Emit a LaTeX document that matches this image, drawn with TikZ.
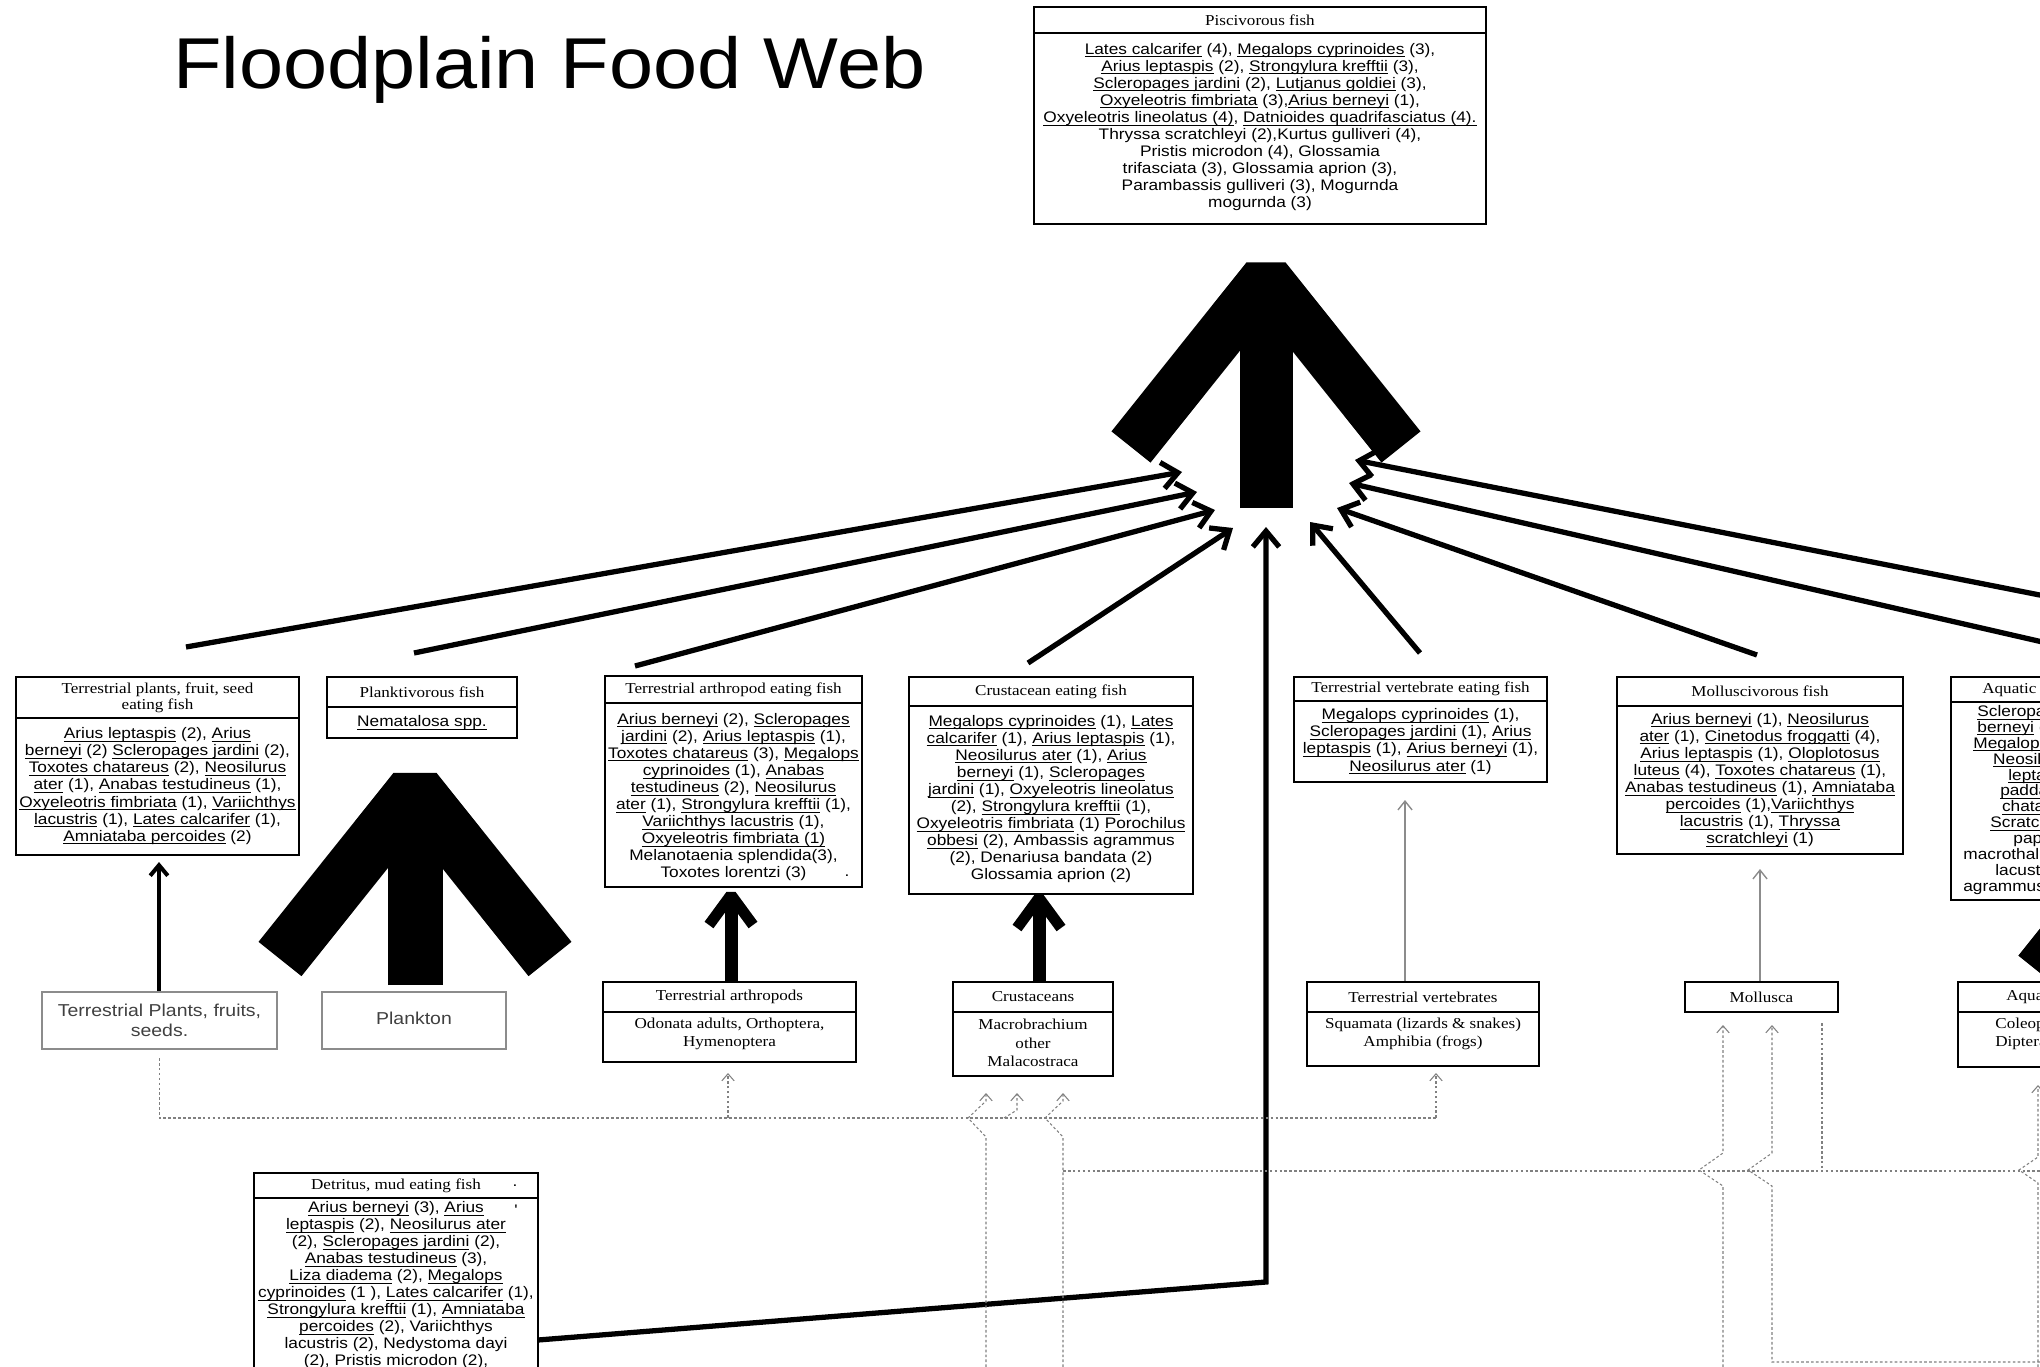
\documentclass[tikz,border=0pt]{standalone}
\usepackage{fontspec}
\usetikzlibrary{calc}
\usetikzlibrary{fit}
\usetikzlibrary{arrows.meta}

\newfontfamily\titlefont[FakeStretch=1.1]{Liberation Sans}
\newfontfamily\bodyfont[FakeStretch=1.13]{Liberation Sans}
\newfontfamily\headfont[FakeStretch=1.13]{Liberation Serif}
\newsavebox{\spcbox}
\newcommand{\spc}[1]{\sbox{\spcbox}{#1}\rlap{\rule[-1.7pt]{\wd\spcbox}{0.5pt}}\usebox{\spcbox}}

\tikzset{
  boxline/.style={draw=black, line width=1.3pt, inner sep=0pt},
  grayline/.style={draw=black!45, line width=0.9pt, inner sep=0pt},
  titletxt/.style={font=\titlefont\fontsize{41}{45}\selectfont, inner sep=0pt},
  headtxt/.style={font=\headfont\fontsize{8.6}{9.3}\selectfont, align=center, inner sep=0pt},
  bodytxt/.style={font=\bodyfont\fontsize{8.7}{9.7}\selectfont, align=center, inner sep=0pt},
  srctxt/.style={font=\headfont\fontsize{8.6}{10.5}\selectfont, align=center, inner sep=0pt},
  graytxt/.style={font=\bodyfont\fontsize{9.8}{11.2}\selectfont, align=center, text=black!75, inner sep=0pt},
  feed/.style={line width=3pt, -{Straight Barb[length=9pt,width=15pt]}},
  blackup/.style={line width=2.3pt, -{Straight Barb[length=6pt,width=10pt]}},
  grayup/.style={draw=black!45, line width=0.8pt, -{Straight Barb[length=5pt,width=8pt]}},
  dotlink/.style={draw=black!50, line width=0.6pt, dash pattern=on 1.5pt off 1.3pt},
  dotarrow/.style={dotlink, -{Straight Barb[length=4pt,width=7pt]}},
  wing/.style={line width=#1, line join=bevel, line cap=butt},
  stem/.style={line width=#1, line cap=butt}
}

\begin{document}
\begin{tikzpicture}[x=0.2mm,y=-0.2mm]
  \useasboundingbox (0,0) rectangle (2040,1367);
  \clip (0,0) rectangle (2040,1367);

  %% title
  \node[titletxt, anchor=base west] (title) at (173,88) {Floodplain Food Web};

  %% piscivorous fish at the top
  \node[boxline, fit={(1034,7) (1486,224)}] (pisc) {};
  \draw[boxline] (1034,33) -- (1486,33);
  \node[headtxt] (pisc/head) at (1260,20) {Piscivorous fish};
  \node[bodytxt] (pisc/body) at (1260,127) {%
    \spc{Lates calcarifer} (4), \spc{Megalops cyprinoides} (3),\\
    \spc{Arius leptaspis} (2), \spc{Strongylura krefftii} (3),\\
    \spc{Scleropages jardini} (2), \spc{Lutjanus goldiei} (3),\\
    \spc{Oxyeleotris fimbriata} (3),\spc{Arius berneyi} (1),\\
    \spc{Oxyeleotris lineolatus (4)}, \spc{Datnioides quadrifasciatus (4).}\\
    Thryssa scratchleyi (2),Kurtus gulliveri (4),\\
    Pristis microdon (4), Glossamia\\
    trifasciata (3), Glossamia aprion (3),\\
    Parambassis gulliveri (3), Mogurnda\\
    mogurnda (3)};

  %% big arrow into the piscivorous fish
  \draw[stem=10.6mm] (1266,508) -- (1266,285);
  \draw[wing=10mm] (1131,447) -- (1266,278) -- (1401,447);

  %% fish boxes, middle row
  \node[boxline, fit={(16,677) (299,855)}] (tpfish) {};
  \draw[boxline] (16,718) -- (299,718);
  \node[headtxt] (tpfish/head) at (157.5,697.5) {Terrestrial plants, fruit, seed\\eating fish};
  \node[bodytxt] (tpfish/body) at (157.5,786) {%
    \spc{Arius leptaspis} (2), \spc{Arius}\\
    \spc{berneyi} (2) \spc{Scleropages jardini} (2),\\
    \spc{Toxotes chatareus} (2), \spc{Neosilurus}\\
    \spc{ater} (1), \spc{Anabas testudineus} (1),\\
    \spc{Oxyeleotris fimbriata} (1), \spc{Variichthys}\\
    \spc{lacustris} (1), \spc{Lates calcarifer} (1),\\
    \spc{Amniataba percoides} (2)};

  \node[boxline, fit={(327,677) (517,738)}] (plfish) {};
  \draw[boxline] (327,707) -- (517,707);
  \node[headtxt] (plfish/head) at (422,692) {Planktivorous fish};
  \node[bodytxt] (plfish/body) at (422,722.5) {\spc{Nematalosa spp.}};

  \node[boxline, fit={(605,676) (862,887)}] (arfish) {};
  \draw[boxline] (605,703) -- (862,703);
  \node[headtxt] (arfish/head) at (733.5,689.5) {Terrestrial arthropod eating fish};
  \node[bodytxt] (arfish/body) at (733.5,797) {%
    \spc{Arius berneyi} (2), \spc{Scleropages}\\
    \spc{jardini} (2), \spc{Arius leptaspis} (1),\\
    \spc{Toxotes chatareus} (3), \spc{Megalops}\\
    \spc{cyprinoides} (1), \spc{Anabas}\\
    \spc{testudineus} (2), \spc{Neosilurus}\\
    \spc{ater} (1), \spc{Strongylura krefftii} (1),\\
    \spc{Variichthys lacustris} (1),\\
    \spc{Oxyeleotris fimbriata (1)}\\
    Melanotaenia splendida(3),\\
    Toxotes lorentzi (3)};
  \node[bodytxt] (arfish/dot) at (847,876) {.};

  \node[boxline, fit={(909,677) (1193,894)}] (crfish) {};
  \draw[boxline] (909,706) -- (1193,706);
  \node[headtxt] (crfish/head) at (1051,691.5) {Crustacean eating fish};
  \node[bodytxt] (crfish/body) at (1051,799) {%
    \spc{Megalops cyprinoides} (1), \spc{Lates}\\
    \spc{calcarifer} (1), \spc{Arius leptaspis} (1),\\
    \spc{Neosilurus ater} (1), \spc{Arius}\\
    \spc{berneyi} (1), \spc{Scleropages}\\
    \spc{jardini} (1), \spc{Oxyeleotris lineolatus}\\
    (2), \spc{Strongylura krefftii} (1),\\
    \spc{Oxyeleotris fimbriata} (1) \spc{Porochilus}\\
    \spc{obbesi} (2), Ambassis agrammus\\
    (2), Denariusa bandata (2)\\
    Glossamia aprion (2)};

  \node[boxline, fit={(1294,677) (1547,782)}] (vtfish) {};
  \draw[boxline] (1294,701) -- (1547,701);
  \node[headtxt] (vtfish/head) at (1420.5,689) {Terrestrial vertebrate eating fish};
  \node[bodytxt] (vtfish/body) at (1420.5,741.5) {%
    \spc{Megalops cyprinoides} (1),\\
    \spc{Scleropages jardini} (1), \spc{Arius}\\
    \spc{leptaspis} (1), \spc{Arius berneyi} (1),\\
    \spc{Neosilurus ater} (1)};

  \node[boxline, fit={(1617,677) (1903,854)}] (mofish) {};
  \draw[boxline] (1617,706) -- (1903,706);
  \node[headtxt] (mofish/head) at (1760,691.5) {Molluscivorous fish};
  \node[bodytxt] (mofish/body) at (1760,780) {%
    \spc{Arius berneyi} (1), \spc{Neosilurus}\\
    \spc{ater} (1), \spc{Cinetodus froggatti} (4),\\
    \spc{Arius leptaspis} (1), \spc{Oloplotosus}\\
    \spc{luteus} (4), \spc{Toxotes chatareus} (1),\\
    \spc{Anabas testudineus} (1), \spc{Amniataba}\\
    \spc{percoides} (1),\spc{Variichthys}\\
    \spc{lacustris} (1), \spc{Thryssa}\\
    \spc{scratchleyi} (1)};

  \node[boxline, fit={(1951,677) (2250,900)}] (aqfish) {};
  \draw[boxline] (1951,702) -- (2250,702);
  \node[headtxt, anchor=west] (aqfish/head) at (1982,690) {Aquatic invertebrate eating fish};
  \node[bodytxt, align=left, anchor=north west, font=\bodyfont\fontsize{8.7}{9.05}\selectfont]
    (aqfish/body) at (1963,705) {%
    \hspace*{8pt}\spc{Scleropages jardini} (1), \spc{Arius}\\
    \hspace*{8pt}\spc{berneyi} (1), \spc{Arius leptaspis} (1),\\
    \hspace*{5.7pt}\spc{Megalops cyprinoides} (1),\\
    \hspace*{17pt}\spc{Neosilurus ater} (1),\\
    \hspace*{25.6pt}\spc{leptaspis} (1),\\
    \hspace*{21pt}\spc{padda} (1),\\
    \hspace*{22pt}\spc{chatareus} (1),\\
    \hspace*{15.4pt}\spc{Scratchleyi} (1),\\
    \hspace*{28.5pt}papuensis (1),\\
    macrothalmus (1),\\
    \hspace*{18.2pt}lacustris (1),\\
    agrammus (1)};

  %% prey boxes, lower row
  \node[grayline, fit={(42,992) (277,1049)}] (tpsrc) {};
  \node[graytxt] (tpsrc/txt) at (159.5,1020) {Terrestrial Plants, fruits,\\seeds.};

  \node[grayline, fit={(322,992) (506,1049)}] (plsrc) {};
  \node[graytxt] (plsrc/txt) at (414,1018) {Plankton};

  \node[boxline, fit={(603,982) (856,1062)}] (arsrc) {};
  \draw[boxline] (603,1012) -- (856,1012);
  \node[srctxt] (arsrc/head) at (729.5,997) {Terrestrial arthropods};
  \node[srctxt] (arsrc/body) at (729.5,1034) {Odonata adults, Orthoptera,\\Hymenoptera};

  \node[boxline, fit={(953,982) (1113,1076)}] (crsrc) {};
  \draw[boxline] (953,1012) -- (1113,1012);
  \node[srctxt] (crsrc/head) at (1033,997) {Crustaceans};
  \node[srctxt] (crsrc/body) at (1033,1043) {Macrobrachium\\other\\Malacostraca};

  \node[boxline, fit={(1307,982) (1539,1066)}] (vtsrc) {};
  \draw[boxline] (1307,1012) -- (1539,1012);
  \node[srctxt] (vtsrc/head) at (1423,997) {Terrestrial vertebrates};
  \node[srctxt] (vtsrc/body) at (1423,1034) {Squamata (lizards \& snakes)\\Amphibia (frogs)};

  \node[boxline, fit={(1685,982) (1838,1012)}] (mosrc) {};
  \node[srctxt] (mosrc/head) at (1761.5,997) {Mollusca};

  \node[boxline, fit={(1958,982) (2250,1067)}] (aqsrc) {};
  \draw[boxline] (1958,1012) -- (2250,1012);
  \node[srctxt, anchor=west] (aqsrc/head) at (2006,997) {Aquatic insects};
  \node[srctxt, align=left, anchor=west] (aqsrc/body) at (1995,1034) {Coleoptera,\\Diptera};

  %% detritus eaters, bottom
  \node[boxline, fit={(254,1173) (538,1400)}] (detfish) {};
  \draw[boxline] (254,1198) -- (538,1198);
  \node[headtxt] (detfish/head) at (396,1186) {Detritus, mud eating fish};
  \node[bodytxt] (detfish/dot) at (515,1186) {.};
  \node[bodytxt] (detfish/tick) at (516,1210) {'};
  \node[bodytxt, anchor=north] (detfish/body) at (396,1201) {%
    \spc{Arius berneyi} (3), \spc{Arius}\\
    \spc{leptaspis} (2), \spc{Neosilurus ater}\\
    (2), \spc{Scleropages jardini} (2),\\
    \spc{Anabas testudineus} (3),\\
    \spc{Liza diadema} (2), \spc{Megalops}\\
    \spc{cyprinoides} (1 ), \spc{Lates calcarifer} (1),\\
    \spc{Strongylura krefftii} (1), \spc{Amniataba}\\
    \spc{percoides} (2), Variichthys\\
    lacustris (2), Nedystoma dayi\\
    (2), Pristis microdon (2),};

  %% thick arrows from prey to fish
  \draw[stem=11mm] (415,985) -- (415,800);
  \draw[wing=11mm] (280,959) -- (415,790) -- (550,959);
  \draw[stem=2.6mm] (731,982) -- (731,902);
  \draw[wing=2.2mm] (709,925) -- (731,895) -- (753,925);
  \draw[stem=2.6mm] (1039,982) -- (1039,905);
  \draw[wing=2.2mm] (1017,928) -- (1039,898) -- (1061,928);
  \draw[stem=6mm] (2078,982) -- (2078,912);
  \draw[wing=6mm] (2030,965) -- (2078,905) -- (2126,965);

  %% thin arrows from prey to fish
  \coordinate (tp/in) at (159,862);
  \coordinate (vt/in) at (1405,800);
  \coordinate (mo/in) at (1760,869);
  \draw[blackup] (tpsrc.north -| tp/in) -- (tp/in);
  \draw[grayup] (vtsrc.north -| vt/in) -- (vt/in);
  \draw[grayup] (mosrc.north -| mo/in) -- (mo/in);

  %% feeding links into the piscivorous fish
  \coordinate (tp/out) at (186,647);
  \coordinate (pl/out) at (414,653);
  \coordinate (ar/out) at (635,666);
  \coordinate (cr/out) at (1028,663);
  \coordinate (vt/out) at (1420,653);
  \coordinate (mo/out) at (1757,655);
  \coordinate (aq/out1) at (2060,599);
  \coordinate (aq/out2) at (2060,646);
  \coordinate (det/out) at (538,1340);
  \coordinate (det/bend) at (1266,1282);

  \coordinate (jn/a) at (1182,472);
  \coordinate (jn/b) at (1197,492);
  \coordinate (jn/c) at (1215,510);
  \coordinate (jn/d) at (1233,528);
  \coordinate (jn/e) at (1266,527);
  \coordinate (jn/f) at (1310,522);
  \coordinate (jn/g) at (1337,508);
  \coordinate (jn/h) at (1349,483);
  \coordinate (jn/i) at (1355,460);

  \draw[feed] (tp/out) -- (jn/a);
  \draw[feed] (pl/out) -- (jn/b);
  \draw[feed] (ar/out) -- (jn/c);
  \draw[feed] (cr/out) -- (jn/d);
  \draw[feed] (det/out) -- (det/bend) -- (jn/e);
  \draw[feed] (vt/out) -- (jn/f);
  \draw[feed] (mo/out) -- (jn/g);
  \draw[feed] (aq/out2) -- (jn/h);
  \draw[feed] (aq/out1) -- (jn/i);

  %% dotted links under the prey boxes
  \coordinate (ar/dot) at (728,1073);
  \coordinate (vt/dot) at (1436,1073);
  \draw[dotlink] (159.5,1058) -- (159.5,1118) -- (1436,1118);
  \draw[dotarrow] (1436,1118) -- (vt/dot);
  \draw[dotarrow] (728,1118) -- (ar/dot);

  \coordinate (cr/dot1) at (986,1093);
  \coordinate (cr/dot2) at (1017,1093);
  \coordinate (cr/dot3) at (1063,1093);
  \draw[dotarrow] (986,1367) -- (986,1137) -- (968,1118) -- (986,1101) -- (cr/dot1);
  \draw[dotarrow] (1004,1118) -- (1017,1110) -- (cr/dot2);
  \draw[dotarrow] (1063,1367) -- (1063,1137) -- (1045,1118) -- (1063,1101) -- (cr/dot3);
  \draw[dotlink] (1063,1171) -- (2040,1171);

  \coordinate (mo/dot1) at (1723,1025);
  \coordinate (mo/dot2) at (1772,1025);
  \coordinate (aq/dot) at (2038,1085);
  \draw[dotarrow] (1723,1367) -- (1723,1186) -- (1699,1170) -- (1723,1153) -- (mo/dot1);
  \draw[dotarrow] (2040,1362) -- (1772,1362) -- (1772,1186) -- (1748,1170) -- (1772,1153) -- (mo/dot2);
  \draw[dotlink] (1822,1023) -- (1822,1171);
  \draw[dotarrow] (2038,1367) -- (2038,1183) -- (2019,1170) -- (2038,1157) -- (aq/dot);

\end{tikzpicture}
\end{document}
